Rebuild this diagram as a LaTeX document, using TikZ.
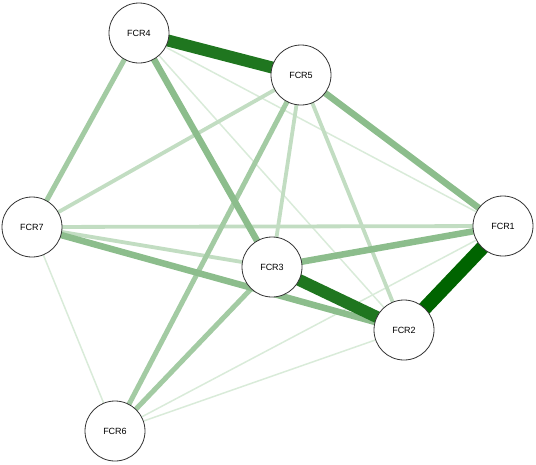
\documentclass[tikz,border=0pt]{standalone}
\usepackage{fontspec}
\setmainfont{Liberation Sans}
\usetikzlibrary{backgrounds}
\definecolor{ecA}{HTML}{006400}
\definecolor{ecB}{HTML}{1F761F}
\definecolor{ecC}{HTML}{8CBD8C}
\definecolor{ecD}{HTML}{A3CBA3}
\definecolor{ecE}{HTML}{C2DDC2}
\definecolor{ecF}{HTML}{D9EBD9}
\definecolor{ringcol}{HTML}{333333}
\tikzset{
  fcr/.style={circle,draw=ringcol,line width=0.8pt,fill=white,minimum size=60pt,inner sep=0pt,font=\fontsize{9}{10}\selectfont},
  eA/.style={draw=ecA,line width=14pt},
  eB/.style={draw=ecB,line width=12pt},
  eC/.style={draw=ecC,line width=6.5pt},
  eD/.style={draw=ecD,line width=5pt},
  eE/.style={draw=ecE,line width=3.8pt},
  eF/.style={draw=ecF,line width=1.5pt},
}
\begin{document}
\begin{tikzpicture}[x=1pt,y=-1pt]
\useasboundingbox (0,0) rectangle (536,464);
\node[fcr] (n4) at (139,33) {FCR4};
\node[fcr] (n5) at (301,75) {FCR5};
\node[fcr] (n7) at (32,227) {FCR7};
\node[fcr] (n1) at (503,226) {FCR1};
\node[fcr] (n3) at (272,267) {FCR3};
\node[fcr] (n2) at (404,330) {FCR2};
\node[fcr] (n6) at (115,431) {FCR6};
\begin{pgfonlayer}{background}
\draw[eF] (n4.center) -- (n1.center);
\draw[eF] (n4.center) -- (n2.center);
\draw[eF] (n7.center) -- (n6.center);
\draw[eF] (n6.center) -- (n1.center);
\draw[eF] (n6.center) -- (n2.center);
\draw[eE] (n5.center) -- (n7.center);
\draw[eE] (n7.center) -- (n1.center);
\draw[eE] (n7.center) -- (n3.center);
\draw[eE] (n5.center) -- (n3.center);
\draw[eE] (n5.center) -- (n2.center);
\draw[eD] (n4.center) -- (n7.center);
\draw[eD] (n5.center) -- (n6.center);
\draw[eD] (n3.center) -- (n6.center);
\draw[eC] (n4.center) -- (n3.center);
\draw[eC] (n5.center) -- (n1.center);
\draw[eC] (n7.center) -- (n2.center);
\draw[eC] (n3.center) -- (n1.center);
\draw[eB] (n4.center) -- (n5.center);
\draw[eB] (n3.center) -- (n2.center);
\draw[eA] (n1.center) -- (n2.center);
\end{pgfonlayer}
\end{tikzpicture}
\end{document}
